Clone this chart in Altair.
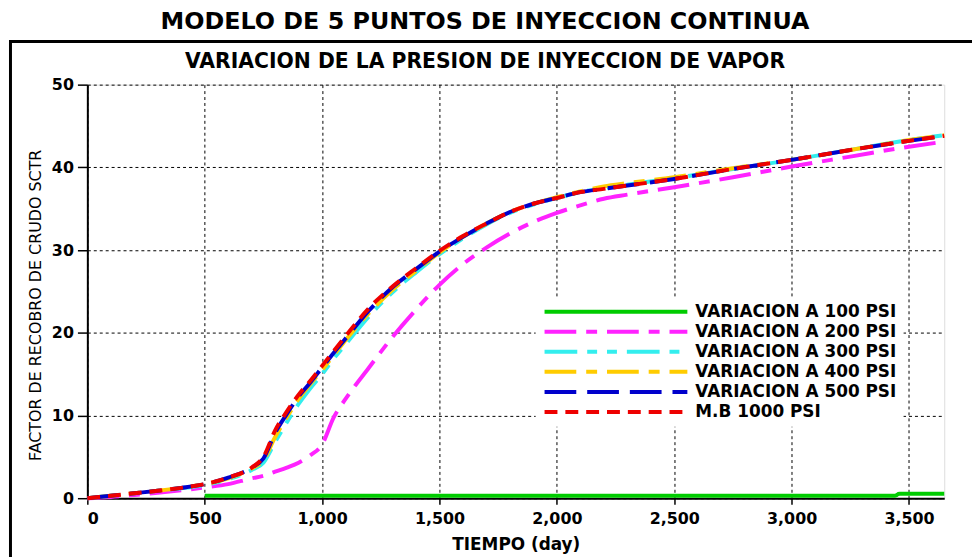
import altair as alt
import pandas as pd

# ---------------- data ----------------
TITLES = ["MODELO DE 5 PUNTOS DE INYECCION CONTINUA",
          "VARIACION DE LA PRESION DE INYECCION DE VAPOR"]

SERIES = ["VARIACION A 100 PSI", "VARIACION A 200 PSI", "VARIACION A 300 PSI",
          "VARIACION A 400 PSI", "VARIACION A 500 PSI", "M.B 1000 PSI"]

TIME = [0, 100, 200, 300, 400, 500, 600, 700, 750, 800, 850, 900, 950, 1000,
        1050, 1100, 1200, 1300, 1400, 1500, 1600, 1700, 1800, 1900, 2000,
        2100, 2200, 2300, 2500, 2750, 3000, 3250, 3500, 3650]

T_100 = [500, 1000, 2000, 3000, 3440, 3460, 3650]
V_100 = [0.3, 0.3, 0.3, 0.3, 0.3, 0.55, 0.55]

V_200 = [0, 0.15, 0.4, 0.65, 0.95, 1.3, 1.7, 2.4, 2.7, 3.2, 3.7, 4.3, 5.2, 6.5,
         9.8, 12.0, 15.8, 19.5, 22.8, 25.8, 28.3, 30.3, 32.0, 33.4, 34.5,
         35.4, 36.2, 36.7, 37.6, 38.8, 40.1, 41.3, 42.5, 43.1]

V_300 = [0, 0.3, 0.6, 0.9, 1.2, 1.6, 2.3, 3.4, 4.3, 6.8, 9.2, 11.4, 13.3, 15.0,
         16.9, 18.6, 22.0, 24.9, 27.3, 29.5, 31.4, 33.1, 34.5, 35.5, 36.3,
         37.0, 37.5, 37.9, 38.7, 39.8, 40.9, 42.1, 43.3, 43.9]

V_400 = [0, 0.3, 0.6, 0.9, 1.25, 1.7, 2.4, 3.6, 4.6, 7.4, 9.8, 12.0, 13.8, 15.5,
         17.3, 19.1, 22.4, 25.2, 27.5, 29.7, 31.6, 33.2, 34.6, 35.6, 36.4,
         37.1, 37.7, 38.1, 38.8, 39.9, 40.9, 42.1, 43.3, 43.9]

V_500 = [0, 0.3, 0.6, 0.9, 1.25, 1.7, 2.5, 3.7, 4.8, 7.9, 10.2, 12.3, 14.0, 15.8,
         17.6, 19.3, 22.7, 25.5, 27.7, 29.8, 31.6, 33.2, 34.6, 35.6, 36.3,
         37.0, 37.4, 37.8, 38.6, 39.8, 40.9, 42.1, 43.2, 43.8]

V_MB = [0, 0.3, 0.6, 0.9, 1.25, 1.7, 2.5, 3.7, 5.0, 8.2, 10.5, 12.5, 14.2, 16.0,
        17.8, 19.6, 23.0, 25.6, 27.8, 29.9, 31.7, 33.2, 34.6, 35.6, 36.3,
        37.0, 37.4, 37.8, 38.6, 39.8, 40.9, 42.1, 43.2, 43.8]

COLORS = ["#00cc00", "#ff22ff", "#33eeee", "#ffcc00", "#0000cc", "#ee0000"]
DASHES = [[1, 0], [32, 10, 11, 10], [33, 10, 10, 10, 10, 10],
          [32, 10, 11, 10], [32, 11], [13, 8]]

X_TICKS = [0, 500, 1000, 1500, 2000, 2500, 3000, 3500]
Y_TICKS = [0, 10, 20, 30, 40, 50]

# ---------------- table ----------------
rows = []
for t, v in zip(T_100, V_100):
    rows.append({"s": SERIES[0], "t": t, "v": v})
for name, vals in zip(SERIES[1:], [V_200, V_300, V_400, V_500, V_MB]):
    for t, v in zip(TIME, vals):
        rows.append({"s": name, "t": t, "v": v})
df = pd.DataFrame(rows)

W, H = 864, 417
FONT = "DejaVu Sans"

legend = alt.Legend(
    title=None, orient="none", legendX=452, legendY=214,
    symbolType="stroke", symbolSize=144 * 144, symbolStrokeWidth=4,
    symbolOffset=0, labelOffset=6,
    labelFont=FONT, labelFontSize=17, labelFontWeight="bold",
    labelColor="black", labelLimit=0,
    fillColor="white", padding=7, clipHeight=16, rowPadding=3.2,
)

x_enc = alt.X("t:Q", scale=alt.Scale(domain=[0, 3650], nice=False, zero=False),
              axis=alt.Axis(values=X_TICKS, format=",.0f", title="TIEMPO (day)",
                            labelFont=FONT, labelFontSize=16, labelFontWeight="bold",
                            labelColor="black", labelPadding=7,
                            tickColor="black", tickSize=6, tickWidth=1.5,
                            domainColor="black", domainWidth=2,
                            gridColor="black", gridDash=[3, 3], gridWidth=1,
                            gridOpacity=1,
                            titleFont=FONT, titleFontSize=17, titleFontWeight="bold",
                            titleColor="black", titlePadding=10))
y_enc = alt.Y("v:Q", scale=alt.Scale(domain=[0, 50], nice=False),
              axis=alt.Axis(values=Y_TICKS, format="d",
                            title="FACTOR DE RECOBRO DE CRUDO SCTR",
                            labelFont=FONT, labelFontSize=16, labelFontWeight="bold",
                            labelColor="black", labelPadding=4,
                            tickColor="black", tickSize=10, tickWidth=1.5,
                            domainColor="black", domainWidth=2,
                            gridColor="black", gridDash=[3, 3], gridWidth=1,
                            gridOpacity=1,
                            titleFont=FONT, titleFontSize=16, titleFontWeight="normal",
                            titleColor="black", titlePadding=8, titleY=222))
color_enc = alt.Color("s:N", scale=alt.Scale(domain=SERIES, range=COLORS), legend=legend)
dash_enc = alt.StrokeDash("s:N", scale=alt.Scale(domain=SERIES, range=DASHES), legend=legend)

base = alt.Chart(df).mark_line(
    strokeWidth=4, strokeCap="butt", interpolate="monotone"
).encode(x=x_enc, y=y_enc, color=color_enc, strokeDash=dash_enc)

others = base.transform_filter(alt.datum.s != SERIES[-1])
mb_line = base.transform_filter(alt.datum.s == SERIES[-1])

frame = alt.Chart(pd.DataFrame({"k": [0]})).mark_rect(
    filled=False, stroke="black", strokeWidth=3
).encode(x=alt.value(-77.5), x2=alt.value(W + 60),
         y=alt.value(-43.5), y2=alt.value(H + 80))

title_df = pd.DataFrame({"txt": TITLES})
main_title = alt.Chart(title_df.iloc[[0]]).mark_text(
    font=FONT, fontSize=24, fontWeight="bold", align="center", baseline="middle",
    color="black"
).encode(text="txt:N", x=alt.value(401), y=alt.value(-63))
sub_title = alt.Chart(title_df.iloc[[1]]).mark_text(
    font=FONT, fontSize=20.5, fontWeight="bold", align="center", baseline="middle",
    color="black"
).encode(text="txt:N", x=alt.value(401), y=alt.value(-23))

chart = alt.layer(others, mb_line, frame, main_title, sub_title).properties(
    width=W, height=H,
    autosize=alt.AutoSizeParams(type="none"),
    padding={"left": 80, "top": 75, "right": 28, "bottom": 57},
).configure_view(
    stroke="black", strokeWidth=1.5
).configure(background="white")

chart.save("out.html", embed_options={"renderer": "svg", "actions": False})
